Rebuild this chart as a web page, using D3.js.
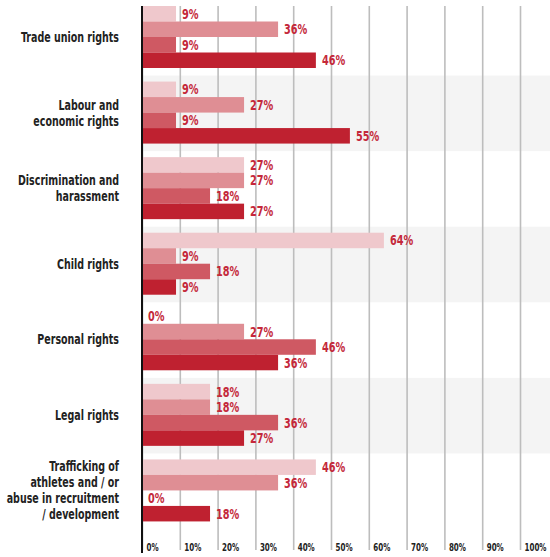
<!DOCTYPE html>
<html>
<head>
<meta charset="utf-8">
<script src="https://cdn.jsdelivr.net/npm/d3@7/dist/d3.min.js"></script>
<style>
  html, body { margin: 0; padding: 0; background: #fff; }
  svg { display: block; }
  .cat { font-family: "DejaVu Sans Condensed", "Liberation Sans", sans-serif; font-weight: bold; font-size: 14px; fill: #222; }
  .val { font-family: "DejaVu Sans Condensed", "Liberation Sans", sans-serif; font-weight: bold; font-size: 14px; fill: #c4283a; }
  .tick text { font-family: "DejaVu Sans Condensed", "Liberation Sans", sans-serif; font-weight: bold; font-size: 11px; fill: #222; }
</style>
</head>
<body>
<svg id="chart" width="550" height="557"></svg>
<script>
// Categories (top to bottom) and their wrapped label lines
const categories = [
  "Trade union rights",
  "Labour and economic rights",
  "Discrimination and harassment",
  "Child rights",
  "Personal rights",
  "Legal rights",
  "Trafficking of athletes and / or abuse in recruitment / development"
];
const categoryLines = [
  ["Trade union rights"],
  ["Labour and", "economic rights"],
  ["Discrimination and", "harassment"],
  ["Child rights"],
  ["Personal rights"],
  ["Legal rights"],
  ["Trafficking of", "athletes and / or", "abuse in recruitment", "/ development"]
];

// Percent values, one array per bar series (lightest to darkest)
const seriesA = [9, 9, 27, 64, 0, 18, 46];
const seriesB = [36, 27, 27, 9, 27, 18, 36];
const seriesC = [9, 9, 18, 18, 46, 36, 0];
const seriesD = [46, 55, 27, 9, 36, 27, 18];
const seriesColors = ["#efc8cc", "#df8e94", "#cf5963", "#bf2130"];

const tickValues = [0, 10, 20, 30, 40, 50, 60, 70, 80, 90, 100];

const allSeries = [seriesA, seriesB, seriesC, seriesD];

const svg = d3.select("#chart");
const W = 550;

const x = d3.scaleLinear().domain([0, 100]).range([142, 520]);
const y = d3.scaleBand().domain(categories).range([0, 529]);
const inner = d3.scaleBand().domain(d3.range(allSeries.length)).range([6, 68]);

// Narrow the condensed face further so it reads like a compressed grotesque
function squeeze(sel, k) {
  sel.each(function () {
    const w = this.getComputedTextLength();
    d3.select(this)
      .attr("textLength", (w * k).toFixed(2))
      .attr("lengthAdjust", "spacingAndGlyphs");
  });
}

// Alternating shaded bands
svg.append("g").selectAll("rect")
  .data(categories.filter((d, i) => i % 2 === 1))
  .join("rect")
  .attr("x", x(0))
  .attr("y", d => y(d))
  .attr("width", W - x(0))
  .attr("height", y.step())
  .attr("fill", "#f4f4f4");

// Vertical gridlines with percent tick labels
const axis = svg.append("g")
  .attr("transform", "translate(0,550)")
  .call(d3.axisBottom(x)
    .tickValues(tickValues)
    .tickFormat(d => d + "%")
    .tickSize(-544));
axis.select(".domain").remove();
axis.selectAll(".tick line").attr("stroke", "#bdbdbd").attr("stroke-width", 1.6);
axis.selectAll(".tick text")
  .attr("text-anchor", "start")
  .attr("x", 4)
  .attr("y", 1)
  .attr("dy", "0");

// Bars
const groups = svg.append("g").selectAll("g")
  .data(categories)
  .join("g")
  .attr("transform", d => `translate(0,${y(d)})`);

groups.each(function (cat, ci) {
  const g = d3.select(this);
  const rows = allSeries.map((s, si) => ({ si, v: s[ci] }));
  g.selectAll("rect")
    .data(rows)
    .join("rect")
    .attr("x", x(0))
    .attr("y", d => inner(d.si))
    .attr("width", d => x(d.v) - x(0))
    .attr("height", inner.bandwidth())
    .attr("fill", d => seriesColors[d.si]);
  g.selectAll("text.val")
    .data(rows)
    .join("text")
    .attr("class", "val")
    .attr("x", d => x(d.v) + 6)
    .attr("y", d => inner(d.si) + inner.bandwidth() / 2)
    .attr("dy", "0.36em")
    .text(d => d.v + "%");

  // Category label, right aligned and vertically centred on the bars
  const lines = categoryLines[ci];
  const lh = 16;
  const cy = (inner.range()[0] + inner.range()[1]) / 2;
  g.selectAll("text.cat")
    .data(lines)
    .join("text")
    .attr("class", "cat")
    .attr("text-anchor", "end")
    .attr("x", 119)
    .attr("y", (ln, li) => cy + (li - (lines.length - 1) / 2) * lh)
    .attr("dy", "0.36em")
    .text(ln => ln);
});

// Fit widths of the bold labels
const refCat = svg.selectAll("text.cat").filter(function () { return this.textContent === "Trade union rights"; }).node();
squeeze(svg.selectAll("text.cat"), 98 / refCat.getComputedTextLength());
const refVal = svg.selectAll("text.val").filter(function () { return this.textContent === "36%"; }).node();
squeeze(svg.selectAll("text.val"), 23.3 / refVal.getComputedTextLength());
const refTick = axis.selectAll(".tick text").filter(function () { return this.textContent === "100%"; }).node();
squeeze(axis.selectAll(".tick text"), 22 / refTick.getComputedTextLength());

// Zero baseline
svg.append("line")
  .attr("x1", x(0)).attr("x2", x(0))
  .attr("y1", 6).attr("y2", 553)
  .attr("stroke", "#111")
  .attr("stroke-width", 2);
</script>
</body>
</html>
